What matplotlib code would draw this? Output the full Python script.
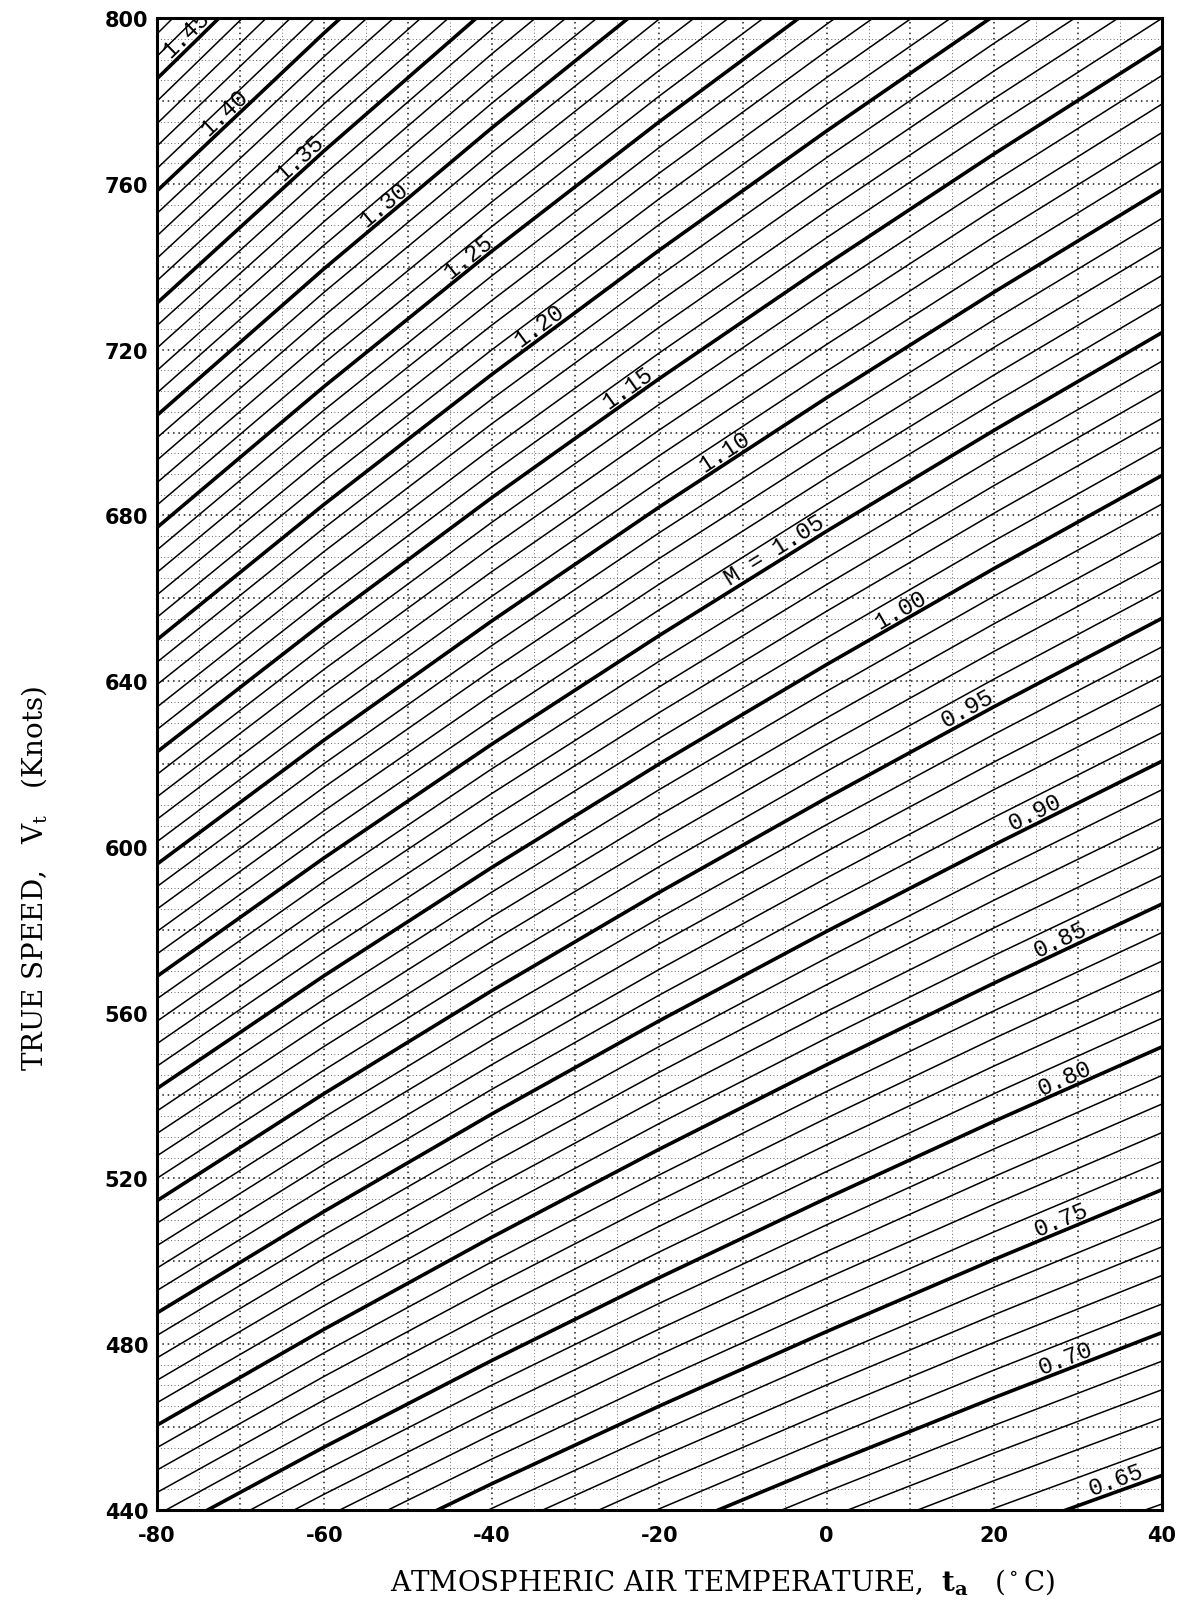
import numpy as np
import matplotlib.pyplot as plt

# speed of sound (knots) at the temperature ticks
temp_c = np.array([-80, -60, -40, -20, 0, 20, 40])
sound_kt = np.array([541.6, 568.9, 595.0, 620.0, 644.0, 667.2, 689.6])

mach_major = [0.65, 0.70, 0.75, 0.80, 0.85, 0.90, 0.95, 1.00, 1.05,
              1.10, 1.15, 1.20, 1.25, 1.30, 1.35, 1.40, 1.45, 1.50]
mach_minor = [m / 100 for m in range(60, 150) if m % 5 != 0]

label_mach = [0.65, 0.70, 0.75, 0.80, 0.85, 0.90, 0.95, 1.00, 1.05,
              1.10, 1.15, 1.20, 1.25, 1.30, 1.35, 1.40, 1.45]
label_text = ["0.65", "0.70", "0.75", "0.80", "0.85", "0.90", "0.95", "1.00",
              "M = 1.05", "1.10", "1.15", "1.20", "1.25", "1.30", "1.35",
              "1.40", "1.45"]
label_temp = [35.0, 29.0, 28.5, 29.0, 28.5, 25.5, 17.5, 9.5, -5.5,
              -11.5, -23.0, -33.5, -42.0, -52.0, -62.0, -71.0, -75.5]

x_ticks = [-80, -60, -40, -20, 0, 20, 40]
y_ticks = [440, 480, 520, 560, 600, 640, 680, 720, 760, 800]

plt.rcParams['mathtext.fontset'] = 'custom'
plt.rcParams['mathtext.rm'] = 'DejaVu Serif'
plt.rcParams['mathtext.bf'] = 'DejaVu Serif:bold'

fig = plt.figure(figsize=(11.8, 16.15), dpi=100)
ax = fig.add_axes([0.1328, 0.0646, 0.8517, 0.9235])
ax.set_xlim(-80, 40)
ax.set_ylim(440, 800)

# dotted graph-paper grid
for x in np.arange(-80, 41, 5):
    heavy = x % 10 == 0
    ax.axvline(x, color='k', ls=(0, (1, 2.5)), lw=1.1 if heavy else 0.7,
               alpha=0.9 if heavy else 0.6, zorder=1)
for y in np.arange(440, 801, 5):
    heavy = y % 20 == 0
    ax.axhline(y, color='k', ls=(0, (1, 2.5)), lw=1.1 if heavy else 0.7,
               alpha=0.9 if heavy else 0.6, zorder=1)

for m in mach_minor:
    ax.plot(temp_c, m * sound_kt, color='k', lw=1.1, zorder=2)
for m in mach_major:
    ax.plot(temp_c, m * sound_kt, color='k', lw=2.6, zorder=3)

# labels sitting on the thick lines
for m, txt, t in zip(label_mach, label_text, label_temp):
    y = m * np.interp(t, temp_c, sound_kt)
    p1 = ax.transData.transform((t - 2, m * np.interp(t - 2, temp_c, sound_kt)))
    p2 = ax.transData.transform((t + 2, m * np.interp(t + 2, temp_c, sound_kt)))
    ang = np.degrees(np.arctan2(p2[1] - p1[1], p2[0] - p1[0]))
    ax.text(t, y, txt, rotation=ang, rotation_mode='anchor', ha='center',
            va='bottom', fontsize=17, family='Liberation Mono', zorder=4,
            clip_on=True)

ax.set_xticks(x_ticks)
ax.set_yticks(y_ticks)
ax.set_xticklabels([str(v) for v in x_ticks])
ax.set_yticklabels([str(v) for v in y_ticks])
ax.tick_params(length=0, labelsize=15)
ax.tick_params(axis='x', pad=11)
ax.tick_params(axis='y', pad=6)
for lab in ax.get_xticklabels() + ax.get_yticklabels():
    lab.set_fontweight('bold')
    lab.set_family('DejaVu Sans')

for s in ax.spines.values():
    s.set_linewidth(2.2)

fig.text(35 / 1180, 1 - 878 / 1615, r'TRUE SPEED,   V$_\mathrm{t}$   (Knots)',
         rotation=90, ha='center', va='center', fontsize=20,
         family='DejaVu Serif')
fig.text(722 / 1180, 1 - 1582 / 1615,
         r'ATMOSPHERIC AIR TEMPERATURE,  $\mathbf{t_a}$   ($^\circ$C)',
         ha='center', va='center', fontsize=20, family='DejaVu Serif')

fig.savefig('out.png', dpi=100)
